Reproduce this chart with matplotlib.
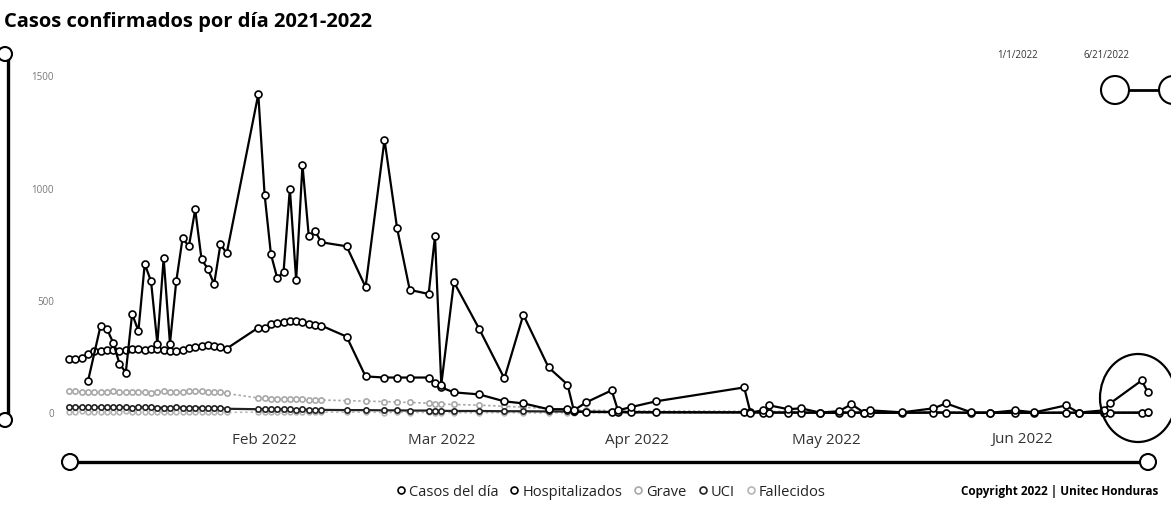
import numpy as np
import matplotlib
matplotlib.use('Agg')
import matplotlib.pyplot as plt
import matplotlib.dates as mdates
from matplotlib.patches import Ellipse
from matplotlib.lines import Line2D
import datetime as dt

plt.rcParams['font.family'] = ['Open Sans', 'DejaVu Sans']

# ---------------- data ----------------
start_date = dt.date(2022, 1, 1)
end_date = dt.date(2022, 6, 21)

# report days (offset in days from 1 Jan 2022)
report_days = (list(range(0, 26)) + list(range(30, 41)) +
               [44, 47, 50, 52, 54, 57, 58, 59, 61, 65, 69, 72, 76, 79, 80, 82, 86, 87, 89, 93] +
               [107, 108, 110, 111, 114, 116, 119, 122, 124, 126, 127, 132, 137, 139, 143, 146,
                150, 153, 158, 160, 164, 165, 170, 171])

casos = ([None, None, None, 142, None, 389, 376, 314, 221, 181, 442, 367, 664, 588, 310, 690,
          310, 588, 779, 743, 907, 686, 642, 575, 752, 712] +
         [1420, 973, 708, 602, 628, 1000, 593, 1106, 788, 810, 761] +
         [743, 562, 1217, 823, 549, 531, 788, 128, 584, 376, 155, 438, 204, 128, 13, 49, 102, 13, 27, 53] +
         [115, 3, 13, 35, 18, 22, 3, 9, 40, 3, 13, 4, 22, 44, 4, 2, 13, 4, 35, 3, 13, 44, 146, 93])

hospitalizados = ([243, 240, 245, 262, 279, 279, 283, 283, 279, 283, 288, 285, 283, 288, 288, 283,
                   279, 279, 283, 292, 297, 301, 306, 301, 297, 288] +
                  [381, 378, 398, 400, 405, 412, 412, 405, 398, 392, 390] +
                  [341, 164, 159, 159, 159, 159, 133, 115, 93, 84, 53, 44, 18, 18, 8, 6, 5, 5, 4, 4] +
                  [4, 4, 3, 3, 3, 3, 2, 2, 3, 2, 2, 2, 3, 3, 2, 2, 2, 2, 3, 2, 2, 3, 3, 4])

grave = ([98, 97, 95, 96, 95, 94, 96, 97, 95, 93, 95, 96, 94, 92, 95, 97, 96, 94, 95, 97, 99, 98,
          96, 95, 94, 88] +
         [68, 66, 65, 64, 64, 63, 62, 62, 61, 60, 59] +
         [56, 54, 52, 50, 48, 45, 43, 41, 39, 36, 31, 27, 21, 17, 15, 14, 12, 11, 10, 10] +
         [9, 9, 8, 8, 8, 7, 7, 7, 6, 6, 6, 6, 6, 5, 5, 5, 5, 5, 4, 4, 4, 4, 4, 4])

uci = ([30, 28, 27, 28, 27, 26, 27, 28, 27, 26, 25, 26, 27, 26, 25, 24, 25, 26, 25, 24, 25, 24,
        23, 24, 23, 20] +
       [18, 19, 18, 17, 18, 17, 16, 17, 16, 15, 15] +
       [14, 14, 13, 13, 12, 12, 11, 11, 10, 10, 9, 9, 8, 8, 7, 7, 6, 6, 6, 5] +
       [4, 4, 4, 4, 3, 3, 3, 3, 3, 3, 3, 3, 3, 3, 2, 2, 2, 2, 2, 2, 2, 2, 2, 2])

fallecidos = ([7, 6, 8, 6, 5, 7, 6, 5, 6, 8, 7, 6, 5, 6, 7, 6, 5, 6, 7, 6, 5, 6, 5, 6, 5, 4] +
              [5, 6, 4, 5, 6, 5, 4, 5, 6, 4, 5] +
              [4, 5, 3, 4, 3, 4, 3, 2, 3, 2, 3, 2, 1, 2, 1, 1, 2, 1, 1, 1] +
              [1, 0, 1, 0, 1, 0, 0, 1, 0, 0, 1, 0, 0, 0, 1, 0, 0, 0, 1, 0, 0, 0, 0, 0])

series_names = ['Casos del día', 'Hospitalizados', 'Grave', 'UCI', 'Fallecidos']
y_ticks = [0, 500, 1000, 1500]
month_ticks = [dt.date(2022, m, 1) for m in (2, 3, 4, 5, 6)]
month_labels = ['Feb 2022', 'Mar 2022', 'Apr 2022', 'May 2022', 'Jun 2022']

# ---------------- figure ----------------
W, H = 1171, 508
fig = plt.figure(figsize=(W / 100, H / 100), dpi=100)
fig.patch.set_facecolor('white')


def fx(x):
    return x / W


def fy(y):
    return 1 - y / H


ax = fig.add_axes([fx(69), fy(420), fx(1148) - fx(69), fy(65) - fy(420)])
dates = [start_date + dt.timedelta(days=d) for d in report_days]
xnum = mdates.date2num(dates)

styles = {
    'Casos del día': dict(color='black', lw=1.6, ls='-', ms=5.0, z=6),
    'Hospitalizados': dict(color='black', lw=1.6, ls='-', ms=5.0, z=5),
    'Grave': dict(color='#a8a8a8', lw=1.2, ls=(0, (1.5, 1.5)), ms=3.8, z=3),
    'UCI': dict(color='#222222', lw=1.6, ls='-', ms=3.8, z=4),
    'Fallecidos': dict(color='#b5b5b5', lw=1.1, ls=(0, (1.5, 2)), ms=3.4, z=2),
}
all_series = [casos, hospitalizados, grave, uci, fallecidos]

for name, vals in zip(series_names, all_series):
    st = styles[name]
    xs = [x for x, v in zip(xnum, vals) if v is not None]
    ys = [v for v in vals if v is not None]
    ax.plot(xs, ys, color=st['color'], lw=st['lw'], ls=st['ls'], marker='o',
            ms=st['ms'], mfc='white', mec=st['color'], mew=1.2, zorder=st['z'],
            clip_on=False)

ax.set_xlim(mdates.date2num(start_date), mdates.date2num(end_date))
ax.set_ylim(-30, 1550)
for s in ax.spines.values():
    s.set_visible(False)
ax.set_yticks(y_ticks)
ax.set_yticklabels([str(v) for v in y_ticks], fontsize=7, color='#777777')
ax.set_xticks(mdates.date2num(month_ticks))
ax.set_xticklabels(month_labels, fontsize=11, color='#333333')
ax.tick_params(axis='both', length=0)
ax.tick_params(axis='y', pad=11)
ax.tick_params(axis='x', pad=9)

# ---------------- title & texts ----------------
fig.text(fx(4), fy(22), 'Casos confirmados por día 2021-2022', ha='left', va='center',
         fontsize=14.5, weight='bold', color='black')
fig.text(fx(1017), fy(56), '1/1/2022', ha='center', va='center', fontsize=7, color='#333333')
fig.text(fx(1107), fy(56), '6/21/2022', ha='center', va='center', fontsize=7, color='#333333')
fig.text(fx(1158), fy(492), 'Copyright 2022 | Unitec Honduras', ha='right', va='center',
         fontsize=8.5, weight='bold', color='black')

# legend
handles = [Line2D([], [], marker='o', ls='', mfc='white', mec=styles[n]['color'], mew=1.2, ms=5)
           for n in series_names]
fig.legend(handles, series_names, loc='center', bbox_to_anchor=(fx(611), fy(492)), ncol=5,
           frameon=False, fontsize=10.5, handlelength=0.6, handletextpad=0.25,
           columnspacing=0.8, labelcolor='#222222')


# ---------------- slicers / decorations ----------------
def circle(cx, cy, r, lw=1.5):
    fig.add_artist(Ellipse((fx(cx), fy(cy)), 2 * r / W, 2 * r / H, transform=fig.transFigure,
                           fc='white', ec='black', lw=lw, zorder=10))


def hline(x0, x1, y, lw):
    fig.add_artist(Line2D([fx(x0), fx(x1)], [fy(y), fy(y)], transform=fig.transFigure,
                          color='black', lw=lw, zorder=9))


def vline(x, y0, y1, lw):
    fig.add_artist(Line2D([fx(x), fx(x)], [fy(y0), fy(y1)], transform=fig.transFigure,
                          color='black', lw=lw, zorder=9))


# bottom date slider
hline(70, 1148, 462, 2.4)
circle(70, 462, 8)
circle(1148, 462, 8)

# top-right slicer
hline(1129, 1160, 90, 2.0)
circle(1115, 90, 14)
circle(1173, 90, 14)

# left vertical slider
vline(8, 60, 414, 2.4)
circle(5, 54, 7)
circle(5, 420, 7)

# hand-drawn mark around last points
fig.add_artist(Ellipse((fx(1138), fy(398)), 76 / W, 88 / H, transform=fig.transFigure,
                       fill=False, ec='black', lw=1.6, zorder=11))

fig.savefig('out.png', dpi=100, facecolor='white')
